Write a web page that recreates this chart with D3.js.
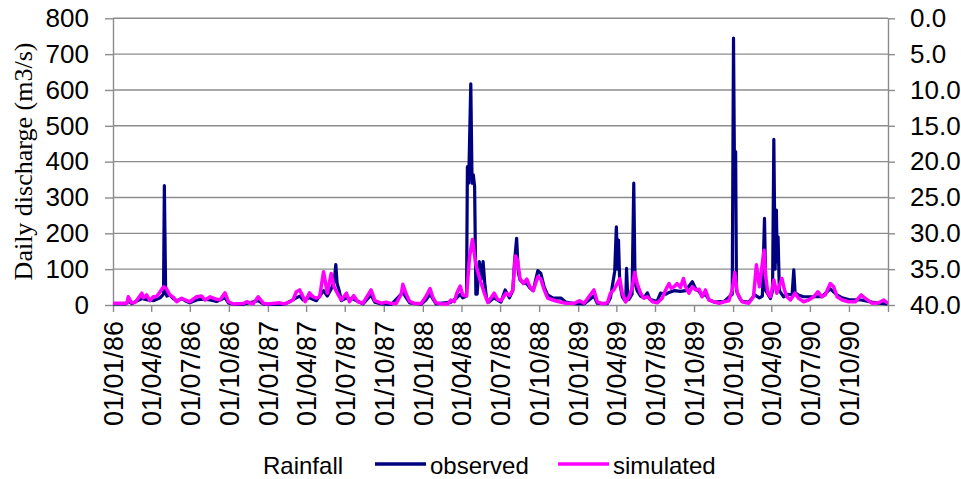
<!DOCTYPE html>
<html>
<head>
<meta charset="utf-8">
<script src="https://cdn.jsdelivr.net/npm/d3@7"></script>
<style>
  body { margin: 0; background: #fff; }
  svg { display: block; font-family: "Liberation Sans", Arial, sans-serif; }
</style>
</head>
<body>
<svg id="chart" width="961" height="479"></svg>
<script>
// day = days since 01/01/1986, value = discharge m3/s
const observed = [
  [0,3],[30,3],[36,12],[44,4],[68,18],[79,15],[95,12],[111,20],[119,30],[121,333],[124,40],[127,25],
  [134,28],[142,18],[150,12],[162,18],[170,12],[181,6],[197,14],[209,16],[229,14],[244,10],[264,20],
  [272,6],[283,2],[307,2],[342,12],[354,3],[365,2],[404,2],[432,20],[440,25],[448,14],[463,20],[479,12],
  [496,40],[505,25],[514,45],[521,65],[525,113],[528,60],[533,40],[538,12],[550,20],[567,16],[589,3],
  [608,28],[617,8],[632,3],[656,2],[683,35],[691,20],[699,6],[726,2],[737,14],[747,30],[761,3],[796,8],
  [810,20],[818,30],[824,20],[833,25],[835,386],[838,340],[843,617],[846,340],[849,363],[852,330],[855,30],
  [858,30],[863,121],[867,70],[872,121],[876,60],[880,19],[885,8],[898,20],[914,8],[924,42],[934,20],
  [942,40],[946,120],[951,186],[955,90],[959,70],[967,60],[975,60],[982,48],[990,40],[1001,96],[1008,88],
  [1016,50],[1024,28],[1036,20],[1056,19],[1067,8],[1087,4],[1110,3],[1133,25],[1141,5],[1165,4],[1172,20],
  [1182,93],[1186,218],[1189,100],[1191,181],[1194,60],[1200,23],[1208,9],[1210,102],[1213,15],[1216,16],
  [1223,30],[1227,340],[1230,60],[1235,40],[1243,25],[1251,20],[1259,34],[1265,16],[1282,10],[1290,33],
  [1302,30],[1310,35],[1322,40],[1337,38],[1349,40],[1365,65],[1373,45],[1381,38],[1388,25],[1396,30],
  [1404,15],[1416,8],[1440,10],[1459,30],[1462,745],[1464,420],[1467,428],[1469,40],[1476,20],[1482,10],
  [1498,8],[1512,28],[1523,20],[1530,25],[1535,242],[1538,40],[1549,18],[1554,40],[1557,462],[1560,100],
  [1563,265],[1565,120],[1567,190],[1570,40],[1580,23],[1590,30],[1600,28],[1604,98],[1607,35],[1615,28],
  [1627,23],[1651,23],[1670,23],[1690,45],[1706,28],[1718,20],[1733,15],[1763,14],[1788,8],[1804,5],[1825,3]
];

const simulated = [
  [0,5],[33,5],[36,23],[44,6],[52,7],[68,33],[71,20],[79,28],[87,12],[95,23],[103,24],[111,37],[119,51],
  [125,47],[134,28],[142,22],[150,9],[162,19],[170,14],[181,9],[197,23],[209,25],[217,14],[229,23],[244,16],
  [252,14],[264,34],[272,9],[283,3],[307,4],[315,9],[330,3],[342,23],[354,5],[365,3],[393,6],[404,3],[416,9],
  [424,14],[432,37],[440,42],[448,22],[453,9],[463,34],[471,23],[479,19],[487,23],[496,93],[505,33],[514,88],
  [521,50],[530,30],[538,14],[550,33],[557,9],[567,26],[577,9],[589,5],[608,42],[617,12],[632,5],[644,8],
  [656,4],[667,4],[679,30],[683,58],[691,30],[699,10],[711,4],[726,4],[737,23],[747,46],[753,23],[761,6],
  [777,3],[789,3],[796,14],[804,9],[810,33],[818,53],[824,28],[833,25],[840,135],[847,183],[855,112],[865,70],
  [875,33],[883,7],[898,33],[906,16],[914,12],[926,33],[934,26],[942,42],[948,137],[953,126],[959,74],[967,60],
  [975,72],[982,51],[990,40],[1001,79],[1008,72],[1016,42],[1024,19],[1036,14],[1051,9],[1067,5],[1087,5],
  [1099,12],[1110,5],[1133,42],[1141,9],[1153,3],[1165,6],[1172,33],[1180,42],[1188,60],[1194,74],[1200,33],
  [1208,9],[1216,23],[1223,47],[1229,91],[1235,60],[1243,33],[1251,19],[1259,23],[1271,9],[1282,6],[1294,19],
  [1302,42],[1310,60],[1315,47],[1322,51],[1329,60],[1337,49],[1344,74],[1349,51],[1357,33],[1365,51],
  [1373,42],[1381,44],[1388,23],[1396,42],[1404,14],[1416,9],[1428,5],[1440,9],[1451,12],[1459,42],[1465,91],
  [1471,33],[1482,9],[1498,5],[1509,23],[1516,112],[1523,51],[1534,153],[1538,78],[1543,33],[1549,23],
  [1557,70],[1564,33],[1576,74],[1582,42],[1588,23],[1596,14],[1607,33],[1615,19],[1627,9],[1639,14],
  [1651,23],[1661,37],[1670,23],[1678,28],[1690,60],[1698,51],[1706,23],[1718,14],[1733,9],[1749,9],
  [1763,28],[1772,19],[1788,5],[1804,6],[1816,14],[1825,5]
];

const rainfall = []; // rainfall series has no visible marks

const dischargeTicks = [0,100,200,300,400,500,600,700,800];
const rainTicks = [0,5,10,15,20,25,30,35,40];
const legendItems = [
  { name: "Rainfall", color: null },
  { name: "observed", color: "#000080" },
  { name: "simulated", color: "#ff00ff" }
];

const start = new Date(1986, 0, 1);
const end = new Date(1991, 0, 1);
const toDate = d => d3.timeDay.offset(start, d);

const svg = d3.select("#chart");
const plotL = 113, plotR = 888, plotT = 18.3, plotB = 305;
const gridColor = "#8c8c8c";
const font = '"Liberation Sans", Arial, sans-serif';

const x = d3.scaleTime().domain([start, end]).range([plotL, plotR]);
const y = d3.scaleLinear().domain([0, 800]).range([plotB, plotT]);
const yRain = d3.scaleLinear().domain([0, 40]).range([plotT, plotB]);

// grid
svg.append("g")
  .selectAll("line")
  .data(dischargeTicks.slice(1))
  .enter().append("line")
  .attr("x1", plotL).attr("x2", plotR)
  .attr("y1", d => y(d)).attr("y2", d => y(d))
  .attr("stroke", gridColor)
  .attr("stroke-width", 1.4);

function styleAxis(g, size) {
  g.select(".domain").attr("stroke", gridColor).attr("stroke-width", 1.4);
  g.selectAll(".tick line").attr("stroke", gridColor).attr("stroke-width", 1.4);
  g.selectAll("text").attr("fill", "#000").style("font-size", size + "px")
    .style("font-family", font);
}

// left axis
svg.append("g")
  .attr("transform", `translate(${plotL},0)`)
  .call(d3.axisLeft(y).tickValues(dischargeTicks).tickSize(8).tickPadding(16).tickSizeOuter(0))
  .call(styleAxis, 26);

// right axis (rainfall, reversed)
svg.append("g")
  .attr("transform", `translate(${plotR},0)`)
  .call(d3.axisRight(yRain).tickValues(rainTicks).tickFormat(d3.format(".1f")).tickSize(7).tickPadding(15).tickSizeOuter(0))
  .call(styleAxis, 26);

// bottom axis
const quarterTicks = d3.timeMonth.every(3).range(start, d3.timeDay.offset(end, 1));
const fmt = d3.timeFormat("%d/%m/%y");
svg.append("g")
  .attr("transform", `translate(0,${plotB})`)
  .call(d3.axisBottom(x).tickValues(quarterTicks)
    .tickFormat(d => d < end ? fmt(d) : "")
    .tickSize(7).tickSizeOuter(0))
  .call(styleAxis, 27)
  .selectAll("text")
  .attr("transform", "rotate(-90)")
  .attr("x", -16).attr("y", 0).attr("dy", "0.35em")
  .style("text-anchor", "end");

// axis title
svg.append("text")
  .attr("transform", "translate(32,161.5) rotate(-90)")
  .attr("text-anchor", "middle")
  .style("font-family", '"Liberation Serif", "Times New Roman", serif')
  .style("font-size", "26px")
  .text("Daily discharge (m3/s)");

// lines
const line = d3.line()
  .x(d => x(toDate(d[0])))
  .y(d => y(d[1]));

svg.append("path")
  .datum(observed)
  .attr("fill", "none")
  .attr("stroke", "#000080")
  .attr("stroke-width", 3.2)
  .attr("stroke-linejoin", "round")
  .attr("d", line);

svg.append("path")
  .datum(simulated)
  .attr("fill", "none")
  .attr("stroke", "#ff00ff")
  .attr("stroke-width", 3.5)
  .attr("stroke-linejoin", "round")
  .attr("d", line);

// legend
const legendPos = [263, 430, 613];
const lg = svg.append("g");
legendItems.forEach((item, i) => {
  if (item.color) {
    lg.append("line")
      .attr("x1", legendPos[i] - 55).attr("x2", legendPos[i] - 4)
      .attr("y1", 464).attr("y2", 464)
      .attr("stroke", item.color).attr("stroke-width", 3.5);
  }
  lg.append("text")
    .attr("x", legendPos[i]).attr("y", 474)
    .style("font-size", "24px")
    .text(item.name);
});
</script>
</body>
</html>
